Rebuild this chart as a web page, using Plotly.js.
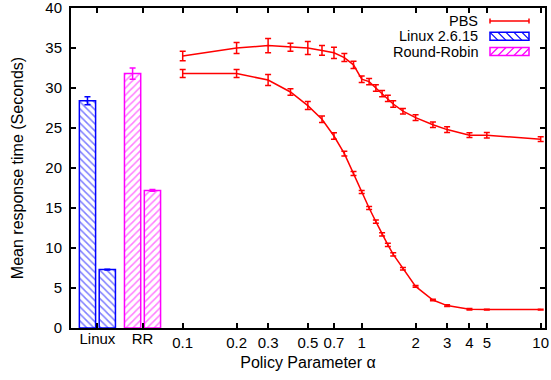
<!DOCTYPE html>
<html>
<head>
<meta charset="utf-8">
<script src="https://cdn.plot.ly/plotly-3.0.1.min.js"></script>
<style>html,body{margin:0;padding:0;background:#fff;}#chart{width:551px;height:380px;}</style>
</head>
<body>
<div id="chart"></div>
<script>
// PBS policy parameter values (alpha)
const alpha = [0.1,0.2,0.3,0.4,0.5,0.6,0.7,0.8,0.9,1.0,1.1,1.2,1.3,1.4,1.5,1.7,2,2.5,3,4,5,10];
// PBS upper curve
const pbsHigh = [34.0,35.0,35.3,35.1,35.0,34.7,34.4,33.8,32.9,31.1,30.8,30.0,29.3,28.7,28.0,27.1,26.3,25.4,24.8,24.1,24.1,23.6];
const pbsHighErr = [0.6,0.7,0.9,0.5,0.8,0.6,0.7,0.5,0.45,0.4,0.4,0.4,0.4,0.4,0.4,0.35,0.35,0.35,0.35,0.3,0.35,0.3];
// PBS lower curve
const pbsLow = [31.8,31.8,31.0,29.5,27.8,26.1,24.0,21.8,19.3,17.0,15.0,13.3,11.7,10.4,9.2,7.4,5.2,3.5,2.8,2.35,2.3,2.3];
const pbsLowErr = [0.5,0.5,0.7,0.4,0.5,0.4,0.4,0.3,0.25,0.2,0.2,0.2,0.2,0.2,0.2,0.15,0.1,0.1,0.1,0.1,0.05,0.05];
// Baseline schedulers
const barCats = ['Linux','RR'];
const linuxVals = [28.4, 7.3];
const linuxErr = [0.5, 0.05];
const rrVals = [31.8, 17.2];
const rrErr = [0.7, 0.1];
// tick labels
const alphaTicks = [0.1,0.2,0.3,0.5,0.7,1,2,3,4,5,10];
const alphaTickText = ['0.1','0.2','0.3','0.5','0.7','1','2','3','4','5','10'];
const yTicks = [0,5,10,15,20,25,30,35,40];
const seriesNames = ['PBS','Linux 2.6.15','Round-Robin'];

const FONT = 'Liberation Sans, Arial, Helvetica, sans-serif';
const RED = '#ff0000', BLUE = '#0000ff', MAG = '#ff00ff';

function pbsTrace(y, err, nm){
  return {x: alpha, y: y, type:'scatter', mode:'lines', xaxis:'x', yaxis:'y',
    name:nm, showlegend:false,
    line:{color:RED, width:1.5},
    error_y:{type:'data', array:err, visible:true, color:RED, thickness:1.5, width:3}};
}
function barTrace(cat, val, err, off, color, shape, nm){
  return {x:[cat], y:[val], type:'bar', xaxis:'x2', yaxis:'y',
    name:nm, showlegend:false,
    offset:off, width:0.36,
    marker:{color:'white', line:{color:color, width:1.5},
      pattern:{shape:shape, fgcolor:color, bgcolor:'white', size:5, solidity:0.3, fillmode:'overlay'}},
    error_y:{type:'data', array:[err], visible:true, color:color, thickness:1.5, width:3}};
}

const data = [
  pbsTrace(pbsHigh, pbsHighErr, seriesNames[0]),
  pbsTrace(pbsLow, pbsLowErr, seriesNames[0]),
  barTrace(barCats[0], linuxVals[0], linuxErr[0], -0.40, BLUE, '\\', seriesNames[1]),
  barTrace(barCats[0], linuxVals[1], linuxErr[1], 0.04, BLUE, '\\', seriesNames[1]),
  barTrace(barCats[1], rrVals[0], rrErr[0], -0.40, MAG, '/', seriesNames[2]),
  barTrace(barCats[1], rrVals[1], rrErr[1], 0.04, MAG, '/', seriesNames[2])
];

const W = 551, H = 380, ML = 71, MR = 6, MT = 8, MB = 52;
const pw = W - ML - MR, ph = H - MT - MB;
function px2paperX(px){ return (px - ML) / pw; }
function px2paperY(py){ return (H - MB - py) / ph; }

// ---- legend (text left, key right, as in the original) ----
const legendY = [21, 36.3, 51.5];
const annotations = seriesNames.map((t,i)=>({
  xref:'paper', yref:'paper', x:px2paperX(480), y:px2paperY(legendY[i]),
  xanchor:'right', yanchor:'middle', text:t, showarrow:false,
  font:{family:FONT, size:14.5, color:'#000'}
}));
const shapes = [];
function seg(x0,y0,x1,y1,color,w){
  shapes.push({type:'line', xref:'paper', yref:'paper',
    x0:px2paperX(x0), y0:px2paperY(y0), x1:px2paperX(x1), y1:px2paperY(y1),
    line:{color:color, width:w}});
}
const KX0 = 490, KX1 = 529;
// PBS key: line with error caps
seg(KX0, legendY[0], KX1, legendY[0], RED, 1.5);
seg(KX0, legendY[0]-2.5, KX0, legendY[0]+2.5, RED, 1.5);
seg(KX1, legendY[0]-2.5, KX1, legendY[0]+2.5, RED, 1.5);
// hatched keys
function hatchKey(cy, color, back){
  const top = cy - 4, bot = cy + 4, h = bot - top, step = 8;
  for(let a = KX0 - h; a < KX1; a += step){
    const s0 = Math.max(0, KX0 - a), s1 = Math.min(h, KX1 - a);
    if(s1 <= s0) continue;
    if(back){ seg(a+s0, top+s0, a+s1, top+s1, color, 1.2); }
    else { seg(a+s0, bot-s0, a+s1, bot-s1, color, 1.2); }
  }
  shapes.push({type:'rect', xref:'paper', yref:'paper',
    x0:px2paperX(KX0), x1:px2paperX(KX1), y0:px2paperY(bot), y1:px2paperY(top),
    line:{color:color, width:1.5}, fillcolor:'rgba(0,0,0,0)'});
}
hatchKey(legendY[1], BLUE, true);
hatchKey(legendY[2], MAG, false);

const layout = {
  width:W, height:H,
  margin:{l:ML, r:MR, t:MT, b:MB, pad:0},
  paper_bgcolor:'#fff', plot_bgcolor:'#fff',
  font:{family:FONT, size:15, color:'#000'},
  barmode:'overlay',
  showlegend:false,
  xaxis:{type:'log', range:[-1.624, 1.024], tickvals:alphaTicks, ticktext:alphaTickText,
    ticks:'inside', ticklen:5, tickwidth:2, tickcolor:'#000',
    showline:true, linewidth:2, linecolor:'#000', mirror:'ticks',
    showgrid:false, zeroline:false, tickfont:{size:15}, ticklabeloverflow:'allow',
    title:{text:'Policy Parameter α', font:{size:16}, standoff:7}},
  xaxis2:{type:'category', overlaying:'x', anchor:'y', side:'bottom',
    categoryorder:'array', categoryarray:barCats, range:[-0.585, 9.92],
    ticks:'inside', ticklen:5, tickwidth:2, tickcolor:'#000', mirror:'ticks',
    showline:false, showgrid:false, zeroline:false, tickfont:{size:15}},
  yaxis:{range:[0,40], tickmode:'array', tickvals:yTicks, ticktext:yTicks.map(String),
    ticks:'inside', ticklen:5, tickwidth:2, tickcolor:'#000',
    showline:true, linewidth:2, linecolor:'#000', mirror:'ticks',
    showgrid:false, zeroline:false, tickfont:{size:15}, ticklabelstandoff:4,
    ticklabeloverflow:'allow',
    title:{text:'Mean response time (Seconds)', font:{size:16}, standoff:18}},
  annotations: annotations,
  shapes: shapes
};

Plotly.newPlot('chart', data, layout, {displayModeBar:false, staticPlot:true});
</script>
</body>
</html>
